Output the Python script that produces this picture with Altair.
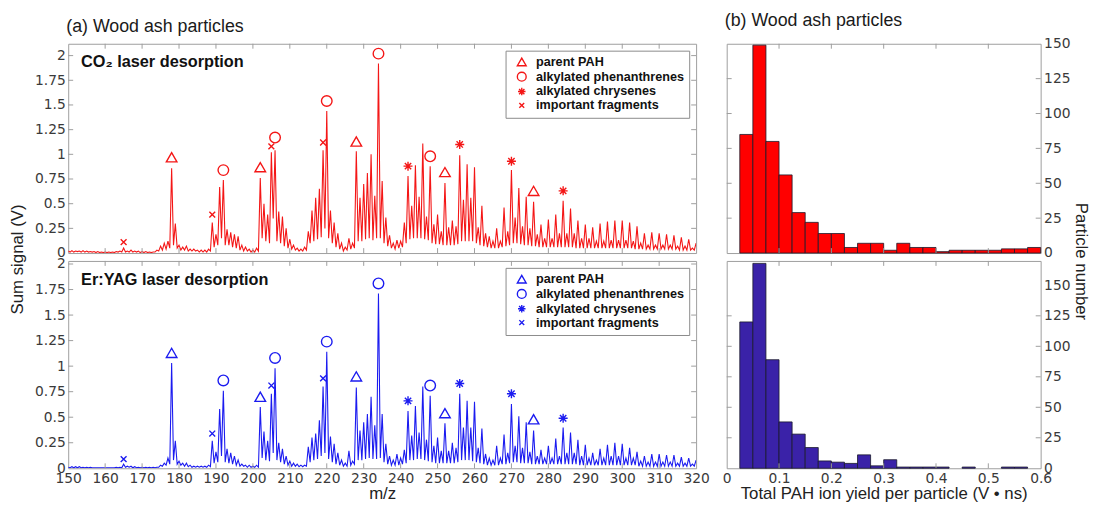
import altair as alt
import pandas as pd

# ---------------- data ----------------
mz_values = list(range(150, 321))

peaks_co2 = [
    0.02, 0.025, 0.02, 0.02, 0.025, 0.02, 0.015, 0.015, 0.015, 0.01,
    0.01, 0.01, 0.01, 0.015, 0.02, 0.05, 0.02, 0.03, 0.02, 0.02,
    0.015, 0.015, 0.01, 0.01, 0.03, 0.07, 0.10, 0.12, 0.86, 0.30,
    0.08, 0.06, 0.07, 0.04, 0.04, 0.03, 0.03, 0.03, 0.04, 0.31,
    0.19, 0.67, 0.74, 0.24, 0.21, 0.19, 0.17, 0.08, 0.06, 0.04,
    0.03, 0.05, 0.76, 0.50, 0.39, 1.02, 1.04, 0.42, 0.37, 0.25,
    0.14, 0.08, 0.05, 0.04, 0.06, 0.22, 0.43, 0.56, 0.65, 1.04,
    1.44, 0.43, 0.31, 0.20, 0.10, 0.06, 0.15, 0.10, 1.03, 0.56,
    0.70, 0.81, 1.00, 0.58, 1.92, 0.73, 0.36, 0.18, 0.10, 0.13,
    0.12, 0.31, 0.78, 0.48, 0.89, 0.57, 1.11, 0.37, 0.88, 0.29,
    0.39, 0.22, 0.71, 0.26, 0.33, 0.27, 0.99, 0.54, 0.90, 0.56,
    0.87, 0.26, 0.48, 0.20, 0.17, 0.12, 0.25, 0.12, 0.46, 0.22,
    0.84, 0.36, 0.66, 0.27, 0.57, 0.25, 0.52, 0.19, 0.29, 0.15,
    0.34, 0.15, 0.39, 0.20, 0.53, 0.20, 0.45, 0.20, 0.33, 0.15,
    0.29, 0.15, 0.26, 0.12, 0.30, 0.12, 0.32, 0.13, 0.33, 0.13,
    0.33, 0.13, 0.31, 0.12, 0.27, 0.10, 0.20, 0.08, 0.21, 0.08,
    0.20, 0.08, 0.19, 0.08, 0.18, 0.07, 0.16, 0.07, 0.14, 0.05, 0.10,
]
valleys_co2 = [
    0.01, 0.01, 0.015, 0.01, 0.01, 0.01, 0.01, 0.005, 0.005, 0.005,
    0.005, 0.005, 0.005, 0.01, 0.01, 0.01, 0.01, 0.01, 0.01, 0.005,
    0.005, 0.005, 0.005, 0.01, 0.02, 0.03, 0.04, 0.05, 0.08, 0.05,
    0.03, 0.03, 0.02, 0.02, 0.02, 0.01, 0.01, 0.01, 0.02, 0.06,
    0.08, 0.15, 0.08, 0.08, 0.06, 0.05, 0.03, 0.02, 0.02, 0.01,
    0.01, 0.02, 0.15, 0.12, 0.10, 0.35, 0.12, 0.10, 0.07, 0.05,
    0.04, 0.03, 0.02, 0.02, 0.03, 0.10, 0.12, 0.14, 0.16, 0.25,
    0.15, 0.10, 0.06, 0.04, 0.02, 0.03, 0.04, 0.05, 0.12, 0.12,
    0.14, 0.15, 0.13, 0.15, 0.15, 0.10, 0.07, 0.05, 0.04, 0.05,
    0.06, 0.10, 0.14, 0.15, 0.15, 0.15, 0.14, 0.13, 0.10, 0.09,
    0.09, 0.08, 0.08, 0.08, 0.08, 0.09, 0.12, 0.12, 0.12, 0.12,
    0.10, 0.08, 0.07, 0.06, 0.05, 0.05, 0.05, 0.06, 0.07, 0.08,
    0.10, 0.10, 0.09, 0.08, 0.08, 0.07, 0.07, 0.06, 0.06, 0.06,
    0.06, 0.06, 0.06, 0.06, 0.06, 0.06, 0.06, 0.05, 0.05, 0.05,
    0.05, 0.05, 0.05, 0.05, 0.05, 0.05, 0.05, 0.05, 0.05, 0.05,
    0.05, 0.05, 0.05, 0.04, 0.04, 0.04, 0.04, 0.04, 0.04, 0.04,
    0.04, 0.04, 0.04, 0.04, 0.04, 0.03, 0.03, 0.03, 0.03, 0.03,
]
peaks_er = [
    0.01, 0.015, 0.015, 0.015, 0.01, 0.01, 0.01, 0.005, 0.005, 0.005,
    0.005, 0.005, 0.005, 0.01, 0.01, 0.04, 0.02, 0.02, 0.015, 0.01,
    0.01, 0.01, 0.01, 0.01, 0.01, 0.03, 0.05, 0.10, 1.03, 0.27,
    0.07, 0.05, 0.05, 0.03, 0.02, 0.02, 0.02, 0.02, 0.03, 0.27,
    0.16, 0.58, 0.76, 0.19, 0.15, 0.12, 0.08, 0.04, 0.03, 0.03,
    0.02, 0.03, 0.60, 0.36, 0.27, 0.73, 0.98, 0.25, 0.19, 0.12,
    0.07, 0.05, 0.04, 0.03, 0.03, 0.21, 0.30, 0.34, 0.47, 0.80,
    1.14, 0.31, 0.24, 0.15, 0.08, 0.05, 0.17, 0.07, 0.79, 0.37,
    0.45, 0.53, 0.70, 0.42, 1.71, 0.53, 0.24, 0.12, 0.08, 0.14,
    0.10, 0.18, 0.56, 0.32, 0.61, 0.35, 0.80, 0.28, 0.71, 0.22,
    0.30, 0.17, 0.44, 0.17, 0.25, 0.20, 0.73, 0.40, 0.66, 0.40,
    0.65, 0.20, 0.39, 0.14, 0.10, 0.08, 0.22, 0.10, 0.33, 0.15,
    0.63, 0.22, 0.51, 0.20, 0.45, 0.16, 0.37, 0.12, 0.18, 0.10,
    0.22, 0.10, 0.29, 0.12, 0.40, 0.15, 0.35, 0.15, 0.28, 0.12,
    0.23, 0.10, 0.15, 0.08, 0.19, 0.10, 0.23, 0.12, 0.25, 0.12,
    0.24, 0.10, 0.20, 0.10, 0.16, 0.07, 0.12, 0.06, 0.14, 0.06,
    0.14, 0.06, 0.13, 0.06, 0.13, 0.05, 0.11, 0.05, 0.10, 0.04, 0.08,
]
valleys_er = [
    0.005, 0.005, 0.005, 0.005, 0.005, 0.005, 0.005, 0.005, 0.005, 0.005,
    0.005, 0.005, 0.005, 0.005, 0.005, 0.01, 0.01, 0.005, 0.005, 0.005,
    0.005, 0.005, 0.005, 0.005, 0.01, 0.02, 0.03, 0.04, 0.08, 0.04,
    0.03, 0.02, 0.015, 0.01, 0.01, 0.01, 0.01, 0.01, 0.015, 0.05,
    0.06, 0.12, 0.06, 0.05, 0.04, 0.03, 0.02, 0.02, 0.01, 0.01,
    0.01, 0.01, 0.10, 0.08, 0.07, 0.15, 0.08, 0.06, 0.04, 0.03,
    0.02, 0.02, 0.015, 0.015, 0.02, 0.06, 0.08, 0.09, 0.12, 0.15,
    0.09, 0.06, 0.04, 0.03, 0.02, 0.02, 0.03, 0.04, 0.08, 0.08,
    0.09, 0.10, 0.09, 0.09, 0.10, 0.06, 0.04, 0.03, 0.03, 0.03,
    0.04, 0.05, 0.08, 0.08, 0.09, 0.09, 0.08, 0.07, 0.06, 0.05,
    0.05, 0.05, 0.05, 0.05, 0.05, 0.06, 0.08, 0.08, 0.08, 0.07,
    0.06, 0.05, 0.04, 0.03, 0.03, 0.03, 0.03, 0.04, 0.04, 0.05,
    0.06, 0.06, 0.05, 0.05, 0.05, 0.04, 0.04, 0.04, 0.04, 0.04,
    0.04, 0.04, 0.04, 0.04, 0.04, 0.04, 0.04, 0.04, 0.03, 0.03,
    0.03, 0.03, 0.03, 0.03, 0.03, 0.03, 0.03, 0.03, 0.03, 0.03,
    0.03, 0.03, 0.03, 0.03, 0.02, 0.02, 0.02, 0.02, 0.02, 0.02,
    0.02, 0.02, 0.02, 0.02, 0.02, 0.02, 0.02, 0.02, 0.02, 0.02,
]

marker_categories = ["parent PAH", "alkylated phenanthrenes",
                     "alkylated chrysenes", "important fragments"]
marker_category_of = (["parent PAH"] * 5 + ["alkylated phenanthrenes"] * 5
                      + ["alkylated chrysenes"] * 4 + ["important fragments"] * 4)
marker_mz = [178, 202, 228, 252, 276, 192, 206, 220, 234, 248,
             242, 256, 270, 284, 165, 189, 205, 219]
marker_y_co2 = [0.97, 0.87, 1.13, 0.82, 0.63, 0.84, 1.17, 1.54, 2.02, 0.98,
                0.88, 1.10, 0.93, 0.63, 0.11, 0.39, 1.08, 1.12]
marker_y_er = [1.13, 0.70, 0.90, 0.54, 0.48, 0.86, 1.08, 1.24, 1.81, 0.81,
               0.66, 0.83, 0.73, 0.49, 0.09, 0.34, 0.81, 0.88]

bin_edges = [0.025, 0.05, 0.075, 0.1, 0.125, 0.15, 0.175, 0.2, 0.225, 0.25,
             0.275, 0.3, 0.325, 0.35, 0.375, 0.4, 0.425, 0.45, 0.475, 0.5,
             0.525, 0.55, 0.575, 0.6]
counts_co2 = [85, 149, 80, 56, 29, 22, 14, 14, 4, 7, 7, 2, 7, 4, 4, 1, 2, 2,
              2, 2, 3, 3, 4]
counts_er = [120, 168, 89, 38, 28, 17, 6, 5, 4, 11, 2, 7, 1, 1, 1, 1, 0, 1,
             0, 0, 1, 1, 0]

spec_x_ticks = [150, 160, 170, 180, 190, 200, 210, 220, 230, 240, 250, 260,
                270, 280, 290, 300, 310, 320]
spec_y_ticks = [0, 0.25, 0.5, 0.75, 1, 1.25, 1.5, 1.75, 2]
hist_x_ticks = [0, 0.1, 0.2, 0.3, 0.4, 0.5, 0.6]
hist_y_ticks = [0, 25, 50, 75, 100, 125, 150]

# ---------------- styling ----------------
RED = "#f41616"
BLUE = "#1b1bf0"
HIST_RED = "#ff0000"
HIST_BLUE = "#3a22a8"
FRAME = "#9d9d9d"
W_SPEC = 636
W_HIST = 318
H_TOP = 212
H_BOT = 210
TICK_LEN = 5

ASTERISK = ("M-0.85,0L0.85,0M0,-0.85L0,0.85M-0.6,-0.6L0.6,0.6"
            "M-0.6,0.6L0.6,-0.6")
XMARK = "M-0.55,-0.55L0.55,0.55M-0.55,0.55L0.55,-0.55"
shape_range = ["triangle-up", "circle", ASTERISK, XMARK]


def spectrum_frame(peaks, valleys):
    rows = []
    for i, m in enumerate(mz_values):
        rows.append({"mz": m, "s": peaks[i]})
        if i < len(valleys):
            rows.append({"mz": m + 0.5, "s": valleys[i]})
    return pd.DataFrame(rows)


def inner_ticks(xfield, yfield, xticks, yticks, xenc, yenc, w, h):
    xdf = pd.DataFrame({xfield: xticks})
    ydf = pd.DataFrame({yfield: yticks})
    base_rule = dict(color=FRAME, strokeWidth=1)
    return [
        alt.Chart(xdf).mark_rule(**base_rule).encode(
            x=xenc, y=alt.value(0), y2=alt.value(TICK_LEN)),
        alt.Chart(xdf).mark_rule(**base_rule).encode(
            x=xenc, y=alt.value(h), y2=alt.value(h - TICK_LEN)),
        alt.Chart(ydf).mark_rule(**base_rule).encode(
            y=yenc, x=alt.value(0), x2=alt.value(TICK_LEN)),
        alt.Chart(ydf).mark_rule(**base_rule).encode(
            y=yenc, x=alt.value(w - TICK_LEN), x2=alt.value(w)),
    ]


def spectrum(peaks, valleys, marker_y, color, label, height, ymax, bottom):
    xscale = alt.Scale(domain=[150, 320], nice=False, zero=False)
    yscale = alt.Scale(domain=[0, ymax], nice=False)
    if bottom:
        xaxis = alt.Axis(values=spec_x_ticks, format="d", title="m/z",
                         labelPadding=3, titlePadding=1, labelOverlap=False,
                         labelFlush=False)
        yaxis = alt.Axis(values=spec_y_ticks, labelExpr="datum.value + ''",
                         title=None, labelPadding=3, labelOverlap=False)
    else:
        xaxis = None
        yaxis = alt.Axis(values=spec_y_ticks, labelExpr="datum.value + ''",
                         title="Sum signal (V)", titleY=height + 6,
                         labelPadding=3, titlePadding=8, labelOverlap=False)
    xenc = alt.X("mz:Q", scale=xscale, axis=xaxis)
    yenc = alt.Y("s:Q", scale=yscale, axis=yaxis)

    line = alt.Chart(spectrum_frame(peaks, valleys)).mark_line(
        color=color, strokeWidth=1.1, clip=True
    ).encode(x=xenc, y=yenc)

    mdf = pd.DataFrame({"mz": marker_mz, "s": marker_y,
                        "type": marker_category_of})
    markers = alt.Chart(mdf).mark_point(
        filled=False, color=color, size=115, strokeWidth=1.4, opacity=1
    ).encode(
        x=xenc,
        y=yenc,
        shape=alt.Shape(
            "type:N",
            scale=alt.Scale(domain=marker_categories, range=shape_range),
            legend=alt.Legend(
                orient="top-right", title=None, offset=7, padding=5,
                rowPadding=0, symbolSize=80, symbolStrokeWidth=1.4,
                symbolStrokeColor=color, symbolFillColor="transparent",
                labelFont="Liberation Sans", labelFontSize=12.8,
                labelFontWeight="bold", labelColor="#111111",
                strokeColor="#8a8a8a", fillColor="white",
                symbolOffset=5, labelOffset=8,
            ),
        ),
    )

    text = alt.Chart(pd.DataFrame({"label": [label]})).mark_text(
        align="left", baseline="middle", font="Liberation Sans",
        fontSize=16.5, fontWeight="bold", color="#111111"
    ).encode(x=alt.value(13), y=alt.value(19), text="label:N")

    layers = [line] + inner_ticks("mz", "s", spec_x_ticks[1:-1],
                                  spec_y_ticks[1:], xenc, yenc,
                                  W_SPEC, height) + [markers, text]
    return alt.layer(*layers).properties(width=W_SPEC, height=height)


def histogram(counts, color, height, ymax, bottom):
    xscale = alt.Scale(domain=[0, 0.6], nice=False)
    yscale = alt.Scale(domain=[0, ymax], nice=False)
    if bottom:
        xaxis = alt.Axis(values=hist_x_ticks, labelExpr="datum.value + ''",
                         title="Total PAH ion yield per particle (V \u2022 ns)",
                         labelPadding=3, titlePadding=1, labelOverlap=False,
                         labelFlush=False)
        yaxis = alt.Axis(values=hist_y_ticks, orient="right", title=None,
                         labelPadding=3, labelOverlap=False)
    else:
        xaxis = None
        yaxis = alt.Axis(values=hist_y_ticks, orient="right",
                         title="Particle number", titleY=height + 8,
                         labelPadding=3, titlePadding=2, labelOverlap=False)
    xenc = alt.X("x0:Q", scale=xscale, axis=xaxis)
    yenc = alt.Y("count:Q", scale=yscale, axis=yaxis)
    df = pd.DataFrame({"x0": bin_edges[:-1], "x1": bin_edges[1:],
                       "count": counts})
    bars = alt.Chart(df).transform_filter("datum.count > 0").mark_bar(
        color=color, stroke="#1a1a2a", strokeWidth=0.8
    ).encode(
        x=xenc,
        x2="x1:Q",
        y=yenc,
        y2=alt.datum(0),
    )
    layers = [bars] + inner_ticks("x0", "count", hist_x_ticks[1:-1],
                                  hist_y_ticks[1:-1], xenc, yenc,
                                  W_HIST, height)
    return alt.layer(*layers).properties(width=W_HIST, height=height)


title_kw = dict(anchor="start", frame="group", fontSize=18,
                font="Liberation Sans", fontWeight="normal",
                color="#1a1a1a", offset=7, dx=-2)

spec_top = spectrum(peaks_co2, valleys_co2, marker_y_co2, RED,
                    "CO\u2082 laser desorption", H_TOP, 2.12, False
                    ).properties(title=alt.TitleParams("(a) Wood ash particles", **title_kw))
spec_bot = spectrum(peaks_er, valleys_er, marker_y_er, BLUE,
                    "Er:YAG laser desorption", H_BOT, 2.03, True)
hist_top = histogram(counts_co2, HIST_RED, H_TOP, 150, False).properties(
    title=alt.TitleParams("(b) Wood ash particles", **title_kw))
hist_bot = histogram(counts_er, HIST_BLUE, H_BOT, 170, True)

res = dict(x="independent", y="independent", shape="independent")

left = alt.vconcat(spec_top, spec_bot, spacing=8, bounds="flush"
                   ).resolve_scale(**res).resolve_legend(shape="independent")
right = alt.vconcat(hist_top, hist_bot, spacing=8, bounds="flush"
                    ).resolve_scale(x="independent", y="independent")

chart = alt.hconcat(left, right, spacing=12).resolve_scale(
    **res).resolve_legend(shape="independent").properties(
    padding={"left": 0, "top": 0, "right": 0, "bottom": 0}
).configure_axis(
    labelFont="DejaVu Sans", labelFontSize=14, labelColor="#3a3a3a",
    titleFont="Liberation Sans", titleFontSize=17, titleFontWeight="normal",
    titleColor="#222222", domain=False, ticks=False, grid=False,
    labelOverlap=False,
).configure_view(stroke=FRAME, strokeWidth=1)

chart.save("out.html", embed_options={"renderer": "svg", "actions": False})
